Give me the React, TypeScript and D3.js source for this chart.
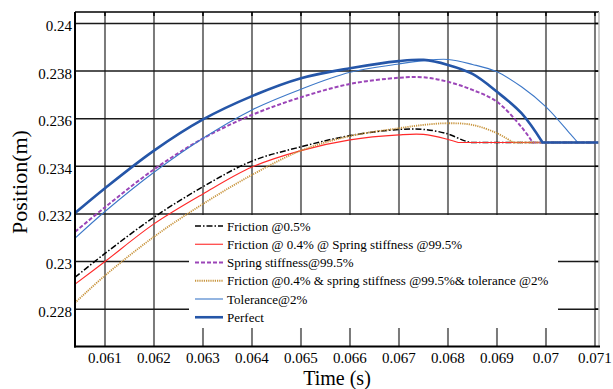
import React from "react";
import * as d3 from "d3";

const xTicks = [0.061, 0.062, 0.063, 0.064, 0.065, 0.066, 0.067, 0.068, 0.069, 0.07, 0.071];
const yTicks = [0.228, 0.23, 0.232, 0.234, 0.236, 0.238, 0.24];
const xTickLabels = ["0.061", "0.062", "0.063", "0.064", "0.065", "0.066", "0.067", "0.068", "0.069", "0.07", "0.071"];
const yTickLabels = ["0.228", "0.23", "0.232", "0.234", "0.236", "0.238", "0.24"];

const frictionT = [0.06039, 0.061, 0.062, 0.063, 0.064, 0.065, 0.066, 0.067, 0.0675, 0.068, 0.0683, 0.06845, 0.0711];
const frictionV = [0.22934, 0.23034, 0.23186, 0.23314, 0.23422, 0.23482, 0.23529, 0.23555, 0.23555, 0.23536, 0.2351, 0.235, 0.235];

const redT = [0.06039, 0.061, 0.062, 0.063, 0.064, 0.065, 0.066, 0.067, 0.0675, 0.068, 0.06821, 0.0711];
const redV = [0.22905, 0.23, 0.23158, 0.23284, 0.23397, 0.23466, 0.23511, 0.23532, 0.23534, 0.23513, 0.235, 0.235];

const springT = [0.06039, 0.061, 0.062, 0.063, 0.064, 0.065, 0.066, 0.067, 0.0675, 0.068, 0.0685, 0.069, 0.0695, 0.06973, 0.0711];
const springV = [0.23125, 0.23228, 0.23387, 0.23517, 0.23616, 0.2369, 0.23746, 0.23772, 0.23774, 0.23755, 0.23721, 0.23671, 0.23565, 0.235, 0.235];

const tanT = [0.06039, 0.061, 0.062, 0.063, 0.064, 0.065, 0.066, 0.067, 0.0675, 0.068, 0.0685, 0.069, 0.06933, 0.0711];
const tanV = [0.22827, 0.22941, 0.23104, 0.23242, 0.23364, 0.23466, 0.23527, 0.2356, 0.23574, 0.23581, 0.23574, 0.23539, 0.235, 0.235];

const tolT = [0.06039, 0.061, 0.062, 0.063, 0.064, 0.065, 0.066, 0.067, 0.0675, 0.068, 0.0685, 0.069, 0.0695, 0.07, 0.0705, 0.07065, 0.0711];
const tolV = [0.23098, 0.2321, 0.23375, 0.23518, 0.23637, 0.23724, 0.23795, 0.2383, 0.23844, 0.23849, 0.23828, 0.23797, 0.23734, 0.2365, 0.23535, 0.235, 0.235];

const perfT = [0.06039, 0.061, 0.062, 0.063, 0.064, 0.065, 0.066, 0.067, 0.0675, 0.068, 0.0685, 0.069, 0.0695, 0.06993, 0.0711];
const perfV = [0.23204, 0.23308, 0.23466, 0.23597, 0.23695, 0.2377, 0.23812, 0.23842, 0.23847, 0.23826, 0.23788, 0.23713, 0.23623, 0.235, 0.235];

const seriesNames = [
  "Friction @0.5%",
  "Friction @ 0.4% @ Spring stiffness @99.5%",
  "Spring stiffness@99.5%",
  "Friction @0.4% & spring stiffness @99.5%& tolerance @2%",
  "Tolerance@2%",
  "Perfect",
];

const series = [
  { name: seriesNames[0], t: frictionT, v: frictionV, color: "#000000", width: 1.5, dash: "6,2,1.5,2" },
  { name: seriesNames[1], t: redT, v: redV, color: "#ff2a2a", width: 1.1, dash: "" },
  { name: seriesNames[2], t: springT, v: springV, color: "#9b45b8", width: 2, dash: "4,2" },
  { name: seriesNames[3], t: tanT, v: tanV, color: "#c8943c", width: 1.8, dash: "1.2,1" },
  { name: seriesNames[4], t: tolT, v: tolV, color: "#3d78c8", width: 1.1, dash: "" },
  { name: seriesNames[5], t: perfT, v: perfV, color: "#2556a8", width: 2.6, dash: "" },
];

const W = 613;
const H = 389;
const L = 75, R = 599, T = 12, B = 346.5;
const FONT = "Liberation Serif";

export default function App() {
  const x = d3.scaleLinear().domain([0.060388, 0.071082]).range([L, R]);
  const y = d3.scaleLinear().domain([0.22643, 0.240483]).range([B, T]);
  const curve = d3
    .line<[number, number]>()
    .x((d) => x(d[0]))
    .y((d) => y(d[1]))
    .curve(d3.curveCatmullRom.alpha(0.5));

  const pathFor = (t: number[], v: number[]) => {
    const pts = t.map((tt, i) => [tt, v[i]] as [number, number]);
    const arc = pts.slice(0, pts.length - 1);
    const last = pts[pts.length - 1];
    return (curve(arc) || "") + `L${x(last[0])},${y(last[1])}`;
  };

  const legX = 189, legY = 215, legW = 369, legH = 113;
  const ts = { fontFamily: `'${FONT}', serif` };

  return (
    <svg width={W} height={H} style={{ position: "absolute", left: 0, top: 0, background: "#fff" }}>
      <defs>
        <clipPath id="plot">
          <rect x={L} y={T} width={R - L} height={B - T} />
        </clipPath>
      </defs>
      <rect x={0} y={0} width={W} height={H} fill="#fff" />
      {xTicks.map((t) => (
        <line key={"vx" + t} x1={x(t)} x2={x(t)} y1={T} y2={B} stroke="#7a7a7a" strokeWidth={2} />
      ))}
      {yTicks.map((v) => (
        <line key={"hy" + v} x1={L} x2={R} y1={y(v)} y2={y(v)} stroke="#1a1a1a" strokeWidth={1.5} />
      ))}
      {xTicks.map((t) => (
        <line key={"tt" + t} x1={x(t)} x2={x(t)} y1={T} y2={T + 4} stroke="#000" strokeWidth={1.5} />
      ))}
      {yTicks.map((v) => (
        <line key={"rt" + v} x1={R - 4} x2={R} y1={y(v)} y2={y(v)} stroke="#000" strokeWidth={1.5} />
      ))}
      <g clipPath="url(#plot)">
        {series.map((s) => (
          <path
            key={s.name}
            d={pathFor(s.t, s.v)}
            fill="none"
            stroke={s.color}
            strokeWidth={s.width}
            strokeDasharray={s.dash || undefined}
          />
        ))}
      </g>
      <rect x={legX} y={legY} width={legW} height={legH} fill="#fff" />
      {series.map((s, i) => {
        const cy = 226 + i * 18.25;
        return (
          <g key={"leg" + i}>
            <line x1={195} x2={223} y1={cy} y2={cy} stroke={s.color} strokeWidth={s.width} strokeDasharray={s.dash || undefined} />
            <text x={227} y={cy + 4.5} fontSize={13} fill="#000" style={ts}>
              {s.name}
            </text>
          </g>
        );
      })}
      <line x1={L} x2={R} y1={T} y2={T} stroke="#000" strokeWidth={1.5} />
      <line x1={R} x2={R} y1={T} y2={B} stroke="#bdbdbd" strokeWidth={1.5} />
      <line x1={L} x2={L} y1={T} y2={B + 1} stroke="#000" strokeWidth={2} />
      <line x1={L - 1} x2={R + 1} y1={B} y2={B} stroke="#000" strokeWidth={2} />
      {xTicks.map((t, i) => (
        <text key={"xl" + t} x={x(t)} y={362.5} fontSize={15} textAnchor="middle" fill="#000" style={ts}>
          {xTickLabels[i]}
        </text>
      ))}
      {yTicks.map((v, i) => (
        <text key={"yl" + v} x={72} y={y(v) + 7.5} fontSize={15} textAnchor="end" fill="#000" style={ts}>
          {yTickLabels[i]}
        </text>
      ))}
      <text x={(L + R) / 2} y={384.5} fontSize={20} textAnchor="middle" fill="#000" style={ts}>
        Time (s)
      </text>
      <text transform="translate(27,182) rotate(-90)" fontSize={22} textAnchor="middle" fill="#000" style={ts}>
        Position(m)
      </text>
    </svg>
  );
}
